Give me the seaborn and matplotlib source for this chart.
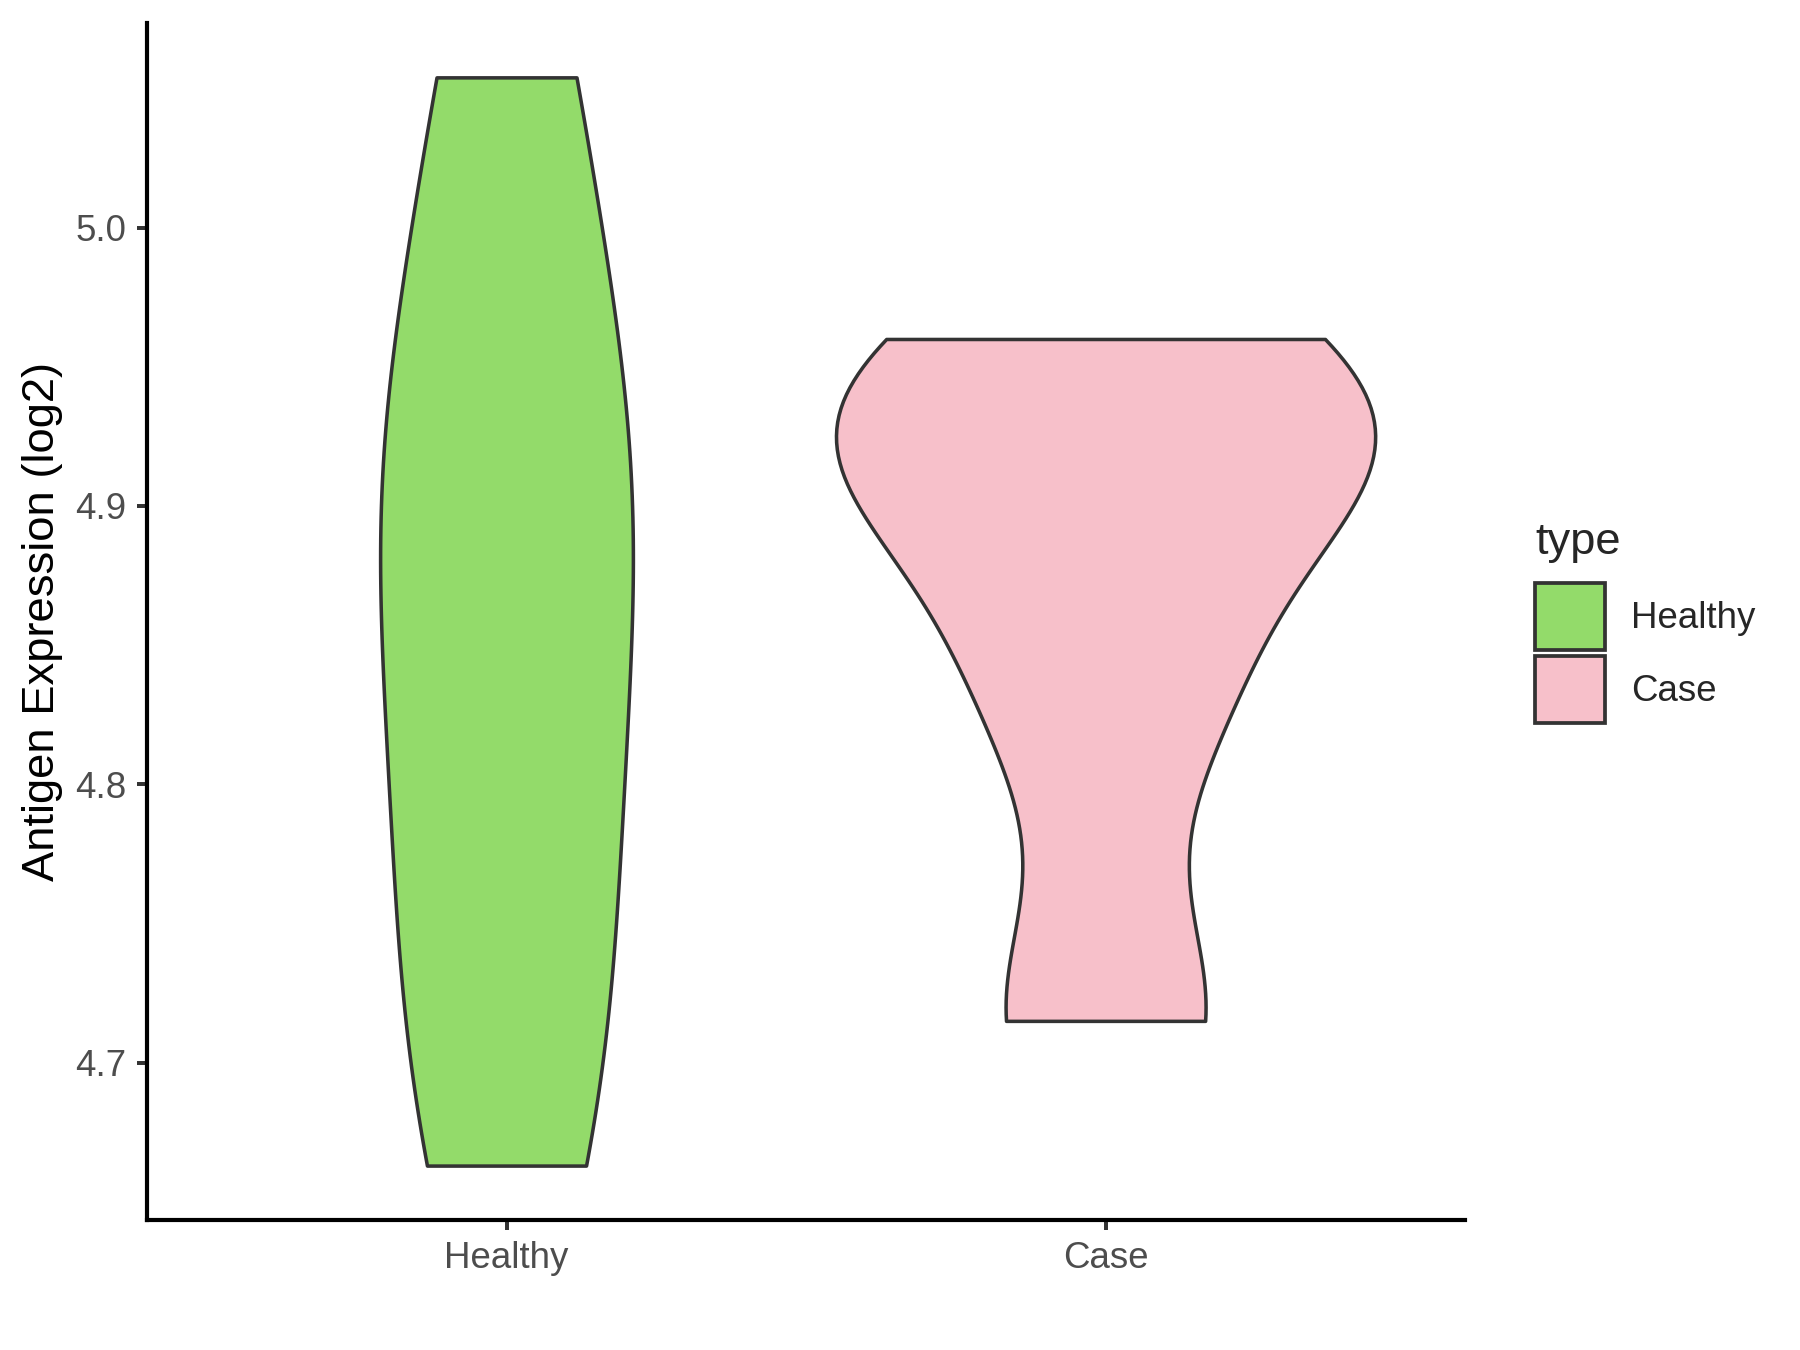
import numpy as np
import pandas as pd
import matplotlib
matplotlib.use("Agg")
import matplotlib.pyplot as plt
from matplotlib.patches import Patch
import seaborn as sns

# values (log2 antigen expression)
groups = ["Healthy", "Case"]
healthy_values = [4.663, 4.741, 4.823, 4.899, 4.944, 5.054]
case_values = [4.715, 4.832, 4.91, 4.924, 4.96]
fill_colors = ["#93DB6A", "#F7C0CA"]
y_ticks = [4.7, 4.8, 4.9, 5.0]

df = pd.DataFrame({
    "type": ["Healthy"] * len(healthy_values) + ["Case"] * len(case_values),
    "value": healthy_values + case_values,
})


def nrd0(kde):
    """R's bw.nrd0 rule, returned as a scipy bandwidth factor."""
    x = kde.dataset.ravel()
    sd = np.std(x, ddof=1)
    q25, q75 = np.percentile(x, [25, 75])
    lo = min(sd, (q75 - q25) / 1.34) if q75 > q25 else sd
    return 0.9 * lo * len(x) ** -0.2 / sd


sns.set_style("ticks")
plt.rcParams["font.family"] = ["Liberation Sans", "DejaVu Sans"]

fig = plt.figure(figsize=(12, 9), dpi=150)
ax = fig.add_axes([0.0817, 0.0963, 0.7322, 0.8867])

palette = dict(zip(groups, fill_colors))
sns.violinplot(
    data=df, x="type", y="value", hue="type", order=groups, hue_order=groups,
    palette=palette, inner=None, cut=0, width=0.9, density_norm="area",
    common_norm=True, bw_method=nrd0, linewidth=1.7, linecolor="#333333",
    saturation=1, legend=False, ax=ax,
)

lo, hi = df["value"].min(), df["value"].max()
pad = 0.05 * (hi - lo)
ax.set_ylim(lo - pad, hi + pad)
ax.set_xlim(-0.6, 1.6)
ax.set_yticks(y_ticks)
ax.set_yticklabels([f"{t:.1f}" for t in y_ticks])

ax.set_xlabel("")
ax.set_ylabel("Antigen Expression (log2)", fontsize=21.8, color="black", labelpad=5.8)

for side in ["top", "right"]:
    ax.spines[side].set_visible(False)
for side in ["left", "bottom"]:
    ax.spines[side].set_linewidth(2.0)
    ax.spines[side].set_color("black")
ax.tick_params(axis="both", length=5, width=1.9, color="#333333", pad=5,
               labelsize=17.6, labelcolor="#4D4D4D")

handles = [Patch(facecolor=c, edgecolor="#333333", linewidth=1.8, label=g)
           for g, c in zip(groups, fill_colors)]
leg = ax.legend(
    handles=handles, title="type", loc="center left",
    bbox_to_anchor=(0.853, 0.539), bbox_transform=fig.transFigure,
    frameon=False, fontsize=17.6, title_fontsize=21.8, alignment="left",
    handlelength=1.9, handleheight=2.45, labelspacing=0.15, handletextpad=0.7,
    borderpad=0, borderaxespad=0,
)
# a bit more room between the legend title and the keys, as in ggplot
leg._legend_box.sep = 9.7

fig.savefig("out.png", dpi=150)
